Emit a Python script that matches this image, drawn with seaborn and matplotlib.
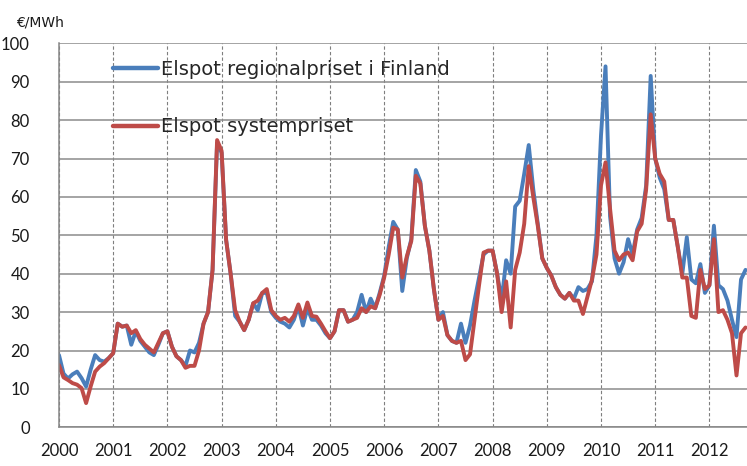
import matplotlib
matplotlib.use("Agg")
import matplotlib.pyplot as plt
import pandas as pd
import seaborn as sns
import numpy as np

# monthly prices, Jan 2000 .. Sep 2012 (EUR/MWh)
finland = [
    18.8, 14.0, 12.7, 13.8, 14.5, 12.8, 10.6, 15.0, 18.8, 17.5, 17.1, 18.0,   # 2000
    19.3, 27.0, 26.2, 26.5, 21.5, 25.0, 22.5, 21.0, 19.5, 18.8, 21.5, 24.5,   # 2001
    25.0, 21.0, 18.5, 17.5, 16.0, 20.0, 19.5, 22.0, 27.0, 30.0, 41.0, 74.0,   # 2002
    71.5, 48.8, 40.0, 29.0, 27.5, 25.3, 28.0, 32.3, 30.5, 35.0, 35.0, 30.0,   # 2003
    28.5, 27.5, 27.0, 26.0, 28.0, 31.5, 26.5, 31.0, 28.0, 28.0, 26.5, 24.5,   # 2004
    23.2, 25.0, 30.5, 30.5, 27.5, 28.0, 30.0, 34.5, 30.0, 33.5, 31.0, 35.0,   # 2005
    39.5, 47.0, 53.5, 51.5, 35.5, 44.0, 49.0, 67.0, 64.0, 52.5, 46.0, 36.0,   # 2006
    28.0, 30.0, 24.0, 22.5, 22.0, 27.0, 22.0, 26.5, 33.0, 39.0, 45.0, 46.0,   # 2007
    46.0, 40.0, 33.0, 43.5, 40.0, 57.5, 59.0, 66.0, 73.5, 62.0, 53.0, 44.0,   # 2008
    41.5, 39.5, 36.5, 34.5, 33.5, 35.0, 33.5, 36.5, 35.5, 36.0, 38.0, 50.0,   # 2009
    76.0, 94.0, 55.0, 44.0, 40.0, 43.0, 49.0, 45.0, 51.5, 54.5, 63.0, 91.5,   # 2010
    70.0, 65.0, 62.0, 54.0, 54.0, 47.0, 40.0, 49.5, 38.5, 37.5, 42.5, 35.0,   # 2011
    37.0, 52.5, 37.0, 36.0, 33.0, 28.0, 23.5, 38.5, 41.0,                     # 2012
]
system = [
    16.2, 13.0, 12.3, 11.5, 11.1, 10.2, 6.3, 10.6, 14.5, 15.8, 16.7, 18.0,
    19.3, 27.0, 26.2, 26.5, 24.5, 25.3, 23.0, 21.5, 20.5, 19.5, 22.0, 24.5,
    25.0, 21.0, 18.5, 17.5, 15.5, 16.0, 16.0, 20.0, 27.0, 30.0, 41.0, 74.8,
    72.0, 48.8, 40.0, 30.5, 27.5, 25.3, 28.0, 32.3, 33.0, 35.0, 36.0, 30.5,
    29.0, 28.0, 28.5, 27.5, 29.0, 32.0, 28.5, 32.5, 29.0, 28.8, 27.0, 25.0,
    23.2, 25.0, 30.5, 30.5, 27.5, 28.0, 28.5, 31.0, 30.0, 31.5, 31.0, 34.5,
    39.0, 45.0, 52.0, 51.5, 39.0, 44.5, 48.5, 65.5, 63.5, 52.5, 46.0, 36.0,
    28.0, 29.0, 24.0, 22.5, 22.0, 22.5, 17.5, 19.0, 28.0, 37.0, 45.5, 46.0,
    46.0, 40.0, 30.0, 38.0, 26.0, 41.0, 45.5, 53.0, 68.0, 60.0, 52.5, 44.0,
    41.5, 39.5, 36.5, 34.5, 33.5, 35.0, 33.0, 33.0, 29.5, 34.0, 38.5, 45.0,
    63.0, 69.0, 57.0, 46.0, 43.5, 45.0, 45.5, 43.5, 51.0, 53.0, 62.0, 81.5,
    70.0, 66.0, 64.0, 54.0, 54.0, 47.0, 39.0, 39.0, 29.0, 28.5, 41.0, 36.0,
    37.0, 49.0, 30.0, 30.5, 28.0, 24.5, 13.5, 24.5, 26.0,
]
labels = ["Elspot regionalpriset i Finland", "Elspot systempriset"]
years = list(range(2000, 2013))

t = 2000 + np.arange(len(finland)) / 12
df = pd.DataFrame({"t": np.concatenate([t, t]),
                   "price": finland + system,
                   "serie": [labels[0]] * len(finland) + [labels[1]] * len(system)})

sns.set_style("white")
plt.rcParams["font.family"] = ["Lato", "DejaVu Sans"]

fig = plt.figure(figsize=(7.47, 4.66), dpi=100)
ax = fig.add_axes([59 / 747, 38.7 / 466, 688 / 747, 384 / 466])

sns.lineplot(data=df, x="t", y="price", hue="serie", ax=ax,
             palette={labels[0]: "#4a7ebb", labels[1]: "#be4b48"},
             linewidth=2.8, legend=True)

ax.set_xlim(2000, 2000 + 688 / 54.2)
ax.set_ylim(0, 100)
ax.set_yticks(range(0, 101, 10))
ax.set_xticks(years)
ax.set_xticklabels([str(y) for y in years])
ax.set_xlabel("")
ax.set_ylabel("")

# horizontal solid grid, vertical dashed grid
ax.yaxis.grid(True, color="#8c8c8c", linewidth=1.1, linestyle="-")
ax.xaxis.grid(True, color="#7f7f7f", linewidth=0.8, linestyle=(0, (3, 2)))
ax.set_axisbelow(True)

for s in ["top", "right"]:
    ax.spines[s].set_visible(False)
for s in ["left", "bottom"]:
    ax.spines[s].set_color("#868686")
    ax.spines[s].set_linewidth(1.1)

ax.tick_params(axis="y", direction="out", length=5, width=1, color="#868686",
               pad=16, labelsize=12, labelcolor="#1a1a1a")
ax.tick_params(axis="x", direction="out", length=6, width=1, color="#868686",
               pad=5, labelsize=12, labelcolor="#1a1a1a")

fig.text(16 / 747, 1 - 26 / 466, "€/MWh", fontsize=10, family="DejaVu Sans",
         ha="left", va="baseline", color="#1a1a1a")

leg = ax.legend(loc="upper left", bbox_to_anchor=(54 / 688, 0.957), frameon=False,
                handlelength=2.3, handletextpad=0.15,
                labelspacing=1.98, borderpad=0, borderaxespad=0,
                prop={"family": "DejaVu Sans", "size": 14})
for line in leg.get_lines():
    line.set_linewidth(3.2)

plt.savefig("out.png", dpi=100)
